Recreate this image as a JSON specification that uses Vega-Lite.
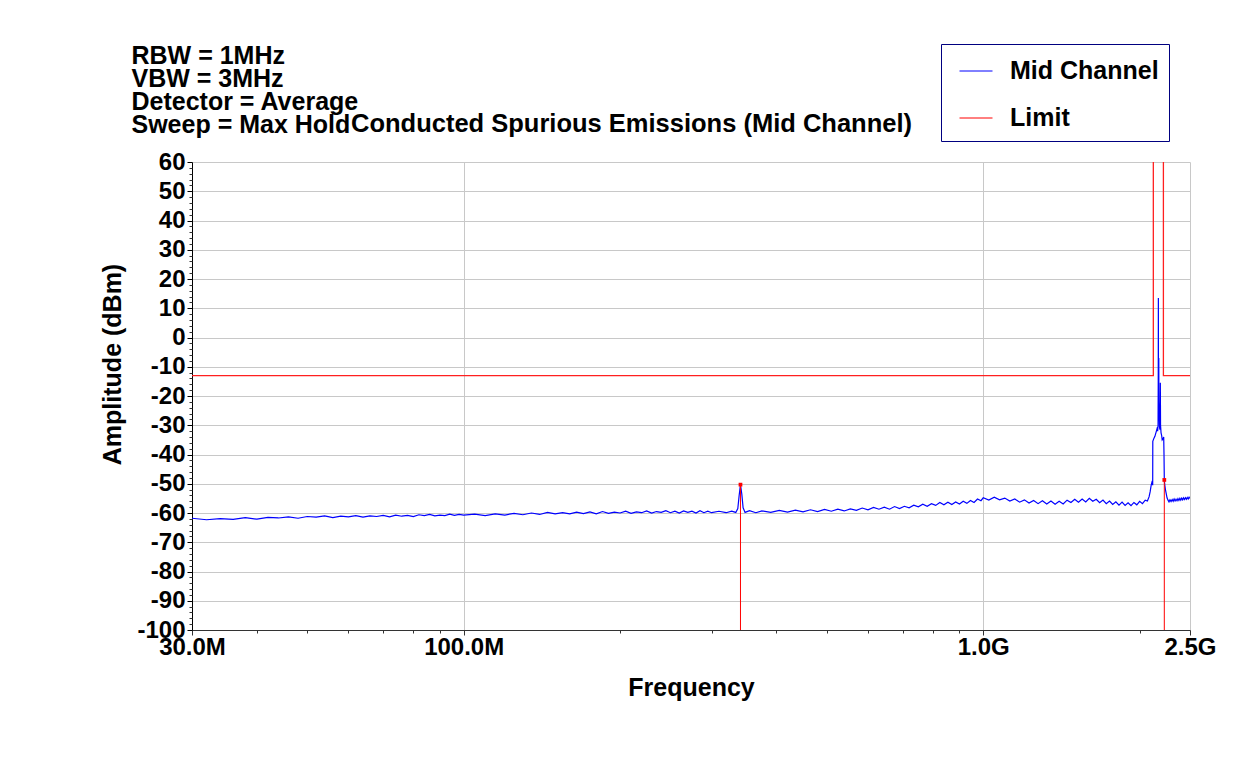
{
  "$schema": "https://vega.github.io/schema/vega-lite/v6.json",
  "width": 998,
  "height": 468,
  "autosize": {"type": "none"},
  "padding": {"left": 192, "top": 162, "right": 59, "bottom": 152},
  "background": "white",
  "config": {"view": {"stroke": null}, "font": "Liberation Sans"},
  "resolve": {"axis": {"x": "independent", "y": "independent"}},
  "layer": [
    {
      "data": {"values": [
        {"f":30,"v":-61.8},{"f":32,"v":-62.3},{"f":34,"v":-61.9},{"f":36,"v":-62.2},{"f":38,"v":-61.6},{"f":40,"v":-62.1},{"f":42,"v":-61.5},{"f":44,"v":-61.7},{"f":46,"v":-61.3},{"f":48,"v":-61.8},{"f":50,"v":-61.2},{"f":52,"v":-61.4},{"f":54,"v":-61.0},{"f":56,"v":-61.6},{"f":58,"v":-61.1},{"f":60,"v":-61.3},{"f":62,"v":-60.9},{"f":64,"v":-61.4},{"f":66,"v":-61.0},{"f":68,"v":-61.2},{"f":70,"v":-60.8},{"f":72,"v":-61.3},{"f":74,"v":-60.7},{"f":76,"v":-61.1},{"f":78,"v":-60.8},{"f":80,"v":-61.2},{"f":82,"v":-60.6},{"f":84,"v":-60.9},{"f":86,"v":-60.5},{"f":88,"v":-61.0},{"f":90,"v":-60.7},{"f":92,"v":-60.9},{"f":94,"v":-60.4},{"f":96,"v":-60.8},{"f":98,"v":-60.5},{"f":100,"v":-60.7},
        {"f":105,"v":-60.4},{"f":110,"v":-60.9},{"f":115,"v":-60.3},{"f":120,"v":-60.7},{"f":125,"v":-60.1},{"f":130,"v":-60.6},{"f":135,"v":-60.0},{"f":140,"v":-60.5},{"f":145,"v":-59.8},{"f":150,"v":-60.3},{"f":155,"v":-59.9},{"f":160,"v":-60.3},{"f":165,"v":-59.7},{"f":170,"v":-60.2},{"f":175,"v":-59.6},{"f":180,"v":-60.3},{"f":185,"v":-59.5},{"f":190,"v":-60.1},{"f":195,"v":-59.7},{"f":200,"v":-60.0},{"f":205,"v":-59.4},{"f":210,"v":-60.1},{"f":215,"v":-59.6},{"f":220,"v":-59.9},{"f":225,"v":-59.3},{"f":230,"v":-60.0},{"f":235,"v":-59.5},{"f":240,"v":-59.8},{"f":245,"v":-59.2},{"f":250,"v":-59.9},{"f":255,"v":-59.4},{"f":260,"v":-60.0},{"f":265,"v":-59.3},{"f":270,"v":-59.8},{"f":275,"v":-59.4},{"f":280,"v":-60.0},{"f":285,"v":-59.2},{"f":290,"v":-59.9},{"f":295,"v":-59.4},{"f":300,"v":-59.9},
        {"f":310,"v":-59.4},{"f":320,"v":-59.9},{"f":328,"v":-59.4},{"f":334,"v":-59.8},{"f":337,"v":-58.5},{"f":339,"v":-54},{"f":341,"v":-50.3},{"f":343,"v":-53.5},{"f":345,"v":-58.2},{"f":348,"v":-59.8},{"f":355,"v":-59.2},{"f":365,"v":-59.9},{"f":375,"v":-59.3},{"f":390,"v":-59.8},{"f":405,"v":-59.1},{"f":420,"v":-59.7},{"f":435,"v":-59.0},{"f":450,"v":-59.6},{"f":465,"v":-58.9},{"f":480,"v":-59.5},{"f":495,"v":-58.8},{"f":510,"v":-59.4},{"f":525,"v":-58.7},{"f":540,"v":-59.3},{"f":555,"v":-58.6},{"f":570,"v":-59.1},{"f":585,"v":-58.3},{"f":600,"v":-58.9},{"f":615,"v":-58.1},{"f":630,"v":-58.7},{"f":645,"v":-58.0},{"f":660,"v":-58.7},{"f":675,"v":-57.8},{"f":690,"v":-58.5},{"f":705,"v":-57.7},{"f":720,"v":-58.2},{"f":735,"v":-57.3},{"f":750,"v":-57.9},{"f":765,"v":-57.0},{"f":780,"v":-57.7},{"f":795,"v":-56.8},{"f":810,"v":-57.4},{"f":825,"v":-56.4},{"f":840,"v":-57.2},{"f":855,"v":-56.3},{"f":870,"v":-57.1},{"f":885,"v":-56.2},{"f":900,"v":-56.9},{"f":915,"v":-56.0},{"f":930,"v":-56.7},{"f":945,"v":-55.7},{"f":960,"v":-56.4},{"f":975,"v":-55.2},{"f":990,"v":-55.8},{"f":1000,"v":-54.8},
        {"f":1025,"v":-55.6},{"f":1050,"v":-54.6},{"f":1075,"v":-55.5},{"f":1100,"v":-54.9},{"f":1125,"v":-55.9},{"f":1150,"v":-55.2},{"f":1175,"v":-56.3},{"f":1200,"v":-55.5},{"f":1225,"v":-56.6},{"f":1250,"v":-55.7},{"f":1275,"v":-56.8},{"f":1300,"v":-55.8},{"f":1325,"v":-56.9},{"f":1350,"v":-55.9},{"f":1375,"v":-57.0},{"f":1400,"v":-56.0},{"f":1425,"v":-56.9},{"f":1450,"v":-55.6},{"f":1475,"v":-56.4},{"f":1500,"v":-55.3},{"f":1525,"v":-56.3},{"f":1550,"v":-55.2},{"f":1575,"v":-56.2},{"f":1600,"v":-55.0},{"f":1625,"v":-56.0},{"f":1650,"v":-55.3},{"f":1675,"v":-56.5},{"f":1700,"v":-55.6},{"f":1725,"v":-56.8},{"f":1750,"v":-55.9},{"f":1775,"v":-57.1},{"f":1800,"v":-56.2},{"f":1825,"v":-57.3},{"f":1850,"v":-56.3},{"f":1875,"v":-57.4},{"f":1900,"v":-56.5},{"f":1925,"v":-57.5},{"f":1950,"v":-56.4},{"f":1975,"v":-57.2},{"f":2000,"v":-56.0},{"f":2025,"v":-56.8},{"f":2050,"v":-55.6},{"f":2070,"v":-55.9},{"f":2085,"v":-54.5},{"f":2095,"v":-52.8},{"f":2105,"v":-50.5},{"f":2115,"v":-49},{"f":2119,"v":-50.5},
        {"f":2120,"v":-35.5},{"f":2130,"v":-34.5},{"f":2140,"v":-33.8},{"f":2150,"v":-32.5},{"f":2160,"v":-31.2},{"f":2166,"v":-32},{"f":2170,"v":-30},{"f":2172,"v":-12},{"f":2173,"v":13.5},{"f":2174,"v":-18},{"f":2176,"v":-25},{"f":2177,"v":-7},{"f":2178,"v":-22},{"f":2183,"v":-30.5},{"f":2188,"v":-31.5},{"f":2192,"v":-15.5},{"f":2194,"v":-30},{"f":2199,"v":-32.6},{"f":2205,"v":-33.5},{"f":2210,"v":-35},{"f":2220,"v":-34.5},{"f":2225,"v":-34},{"f":2228,"v":-40},{"f":2231,"v":-48.7},{"f":2236,"v":-50.5},{"f":2242,"v":-52},{"f":2248,"v":-53},{"f":2258,"v":-54.8},{"f":2268,"v":-55.6},{"f":2278,"v":-56.2},{"f":2288,"v":-55.5},{"f":2299,"v":-56.1},{"f":2310,"v":-55.4},{"f":2320,"v":-56.0},{"f":2330,"v":-55.2},{"f":2340,"v":-55.9},{"f":2350,"v":-55.3},{"f":2360,"v":-55.8},{"f":2370,"v":-55.1},{"f":2380,"v":-55.7},{"f":2390,"v":-55.0},{"f":2400,"v":-55.6},{"f":2410,"v":-54.9},{"f":2420,"v":-55.5},{"f":2430,"v":-54.8},{"f":2440,"v":-55.4},{"f":2450,"v":-54.8},{"f":2460,"v":-55.3},{"f":2470,"v":-54.7},{"f":2480,"v":-55.2},{"f":2490,"v":-54.6},{"f":2500,"v":-55.0}
      ]},
      "mark": {"type": "line", "strokeWidth": 1.2, "clip": true},
      "encoding": {
        "x": {
          "field": "f", "type": "quantitative",
          "scale": {"type": "log", "domain": [30, 2500], "nice": false},
          "axis": {
            "values": [30, 100, 1000, 2500],
            "labelExpr": "datum.value >= 1000 ? format(datum.value / 1000, '.1f') + 'G' : format(datum.value, '.1f') + 'M'",
            "labelFontSize": 24, "labelFontWeight": "bold", "labelColor": "black", "labelFont": "Liberation Sans",
            "labelPadding": 0, "labelFlush": false, "labelOverlap": false,
            "tickSize": 5, "tickColor": "#333333", "domainColor": "#333333",
            "grid": true, "gridColor": "#c8c8c8", "gridWidth": 1,
            "title": "Frequency", "titleFontSize": 25, "titleFontWeight": "bold", "titleColor": "black", "titleFont": "Liberation Sans",
            "titleY": 57, "titleBaseline": "middle"
          }
        },
        "y": {
          "field": "v", "type": "quantitative",
          "scale": {"domain": [-100, 60], "nice": false},
          "axis": {
            "values": [-100, -90, -80, -70, -60, -50, -40, -30, -20, -10, 0, 10, 20, 30, 40, 50, 60],
            "labelExpr": "datum.value < 0 ? '-' + abs(datum.value) : '' + datum.value",
            "labelFontSize": 24, "labelFontWeight": "bold", "labelColor": "black", "labelFont": "Liberation Sans",
            "labelPadding": 2, "labelOverlap": false, "labelFlush": false,
            "tickSize": 5, "tickColor": "#000000", "domainColor": "#000000",
            "grid": true, "gridColor": "#c8c8c8", "gridWidth": 1,
            "title": "Amplitude (dBm)", "titleFontSize": 25, "titleFontWeight": "bold", "titleColor": "black", "titleFont": "Liberation Sans",
            "titleX": -80, "titleY": 202, "titleAngle": -90, "titleBaseline": "middle", "titleAlign": "center"
          }
        },
        "color": {
          "datum": "Mid Channel",
          "scale": {"domain": ["Mid Channel", "Limit"], "range": ["#0000ff", "#ff0000"]},
          "legend": {
            "orient": "none", "legendX": 749, "legendY": -118, "title": null,
            "symbolType": "stroke", "symbolSize": 1089, "symbolStrokeWidth": 1,
            "labelFontSize": 25, "labelFont": "Liberation Sans", "labelFontWeight": "bold", "labelColor": "black",
            "padding": 10, "rowPadding": 17, "symbolOffset": 8, "labelOffset": 17,
            "strokeColor": "#000080", "fillColor": "white"
          }
        }
      }
    },
    {
      "data": {"values": [
        {"f": 30, "v": -13},
        {"f": 2125, "v": -13},
        {"f": 2125, "v": 75},
        {"f": 2222, "v": 75},
        {"f": 2222, "v": -13},
        {"f": 2500, "v": -13}
      ]},
      "mark": {"type": "line", "strokeWidth": 1.3, "clip": true, "color": "#ff2020"},
      "encoding": {
        "x": {"field": "f", "type": "quantitative", "axis": {
          "orient": "bottom",
          "values": [40, 50, 60, 70, 80, 90, 200, 300, 400, 500, 600, 700, 800, 900, 2000],
          "labels": false, "title": null, "domain": false, "grid": false, "tickSize": 3, "tickColor": "#333333"
        }},
        "y": {"field": "v", "type": "quantitative", "axis": {
          "orient": "left",
          "values": [-98,-96,-94,-92,-88,-86,-84,-82,-78,-76,-74,-72,-68,-66,-64,-62,-58,-56,-54,-52,-48,-46,-44,-42,-38,-36,-34,-32,-28,-26,-24,-22,-18,-16,-14,-12,-8,-6,-4,-2,2,4,6,8,12,14,16,18,22,24,26,28,32,34,36,38,42,44,46,48,52,54,56,58],
          "labels": false, "title": null, "domain": false, "grid": false, "tickSize": 3, "tickColor": "#333333"
        }}
      }
    },
    {
      "data": {"values": [
        {"f": 341, "v": -50.3},
        {"f": 2231, "v": -48.7}
      ]},
      "mark": {"type": "rule", "color": "#ff0000", "strokeWidth": 1},
      "encoding": {
        "x": {"field": "f", "type": "quantitative", "axis": {
          "orient": "top", "values": [], "labels": false, "ticks": false, "domain": false, "grid": false,
          "title": "Conducted Spurious Emissions (Mid Channel)",
          "titleFontSize": 25.5, "titleFontWeight": "bold", "titleColor": "black", "titleFont": "Liberation Sans",
          "titleX": 439, "titleY": -31, "titleBaseline": "alphabetic", "titleAlign": "center"
        }},
        "y": {"field": "v", "type": "quantitative", "axis": null},
        "y2": {"datum": -100}
      }
    },
    {
      "data": {"values": [
        {"f": 341, "v": -50.3},
        {"f": 2231, "v": -48.7}
      ]},
      "mark": {"type": "point", "shape": "square", "filled": true, "size": 14, "color": "#ff0000", "opacity": 1},
      "encoding": {
        "x": {"field": "f", "type": "quantitative", "axis": {
          "orient": "top", "values": [], "labels": false, "ticks": false, "domain": false, "grid": false,
          "title": ["RBW = 1MHz", "VBW = 3MHz", "Detector = Average", "Sweep = Max Hold"],
          "titleFontSize": 25, "titleFontWeight": "bold", "titleColor": "black", "titleFont": "Liberation Sans",
          "titleX": -61, "titleY": -119, "titleBaseline": "top", "titleAlign": "left", "titleLineHeight": 23
        }},
        "y": {"field": "v", "type": "quantitative", "axis": null}
      }
    }
  ]
}
